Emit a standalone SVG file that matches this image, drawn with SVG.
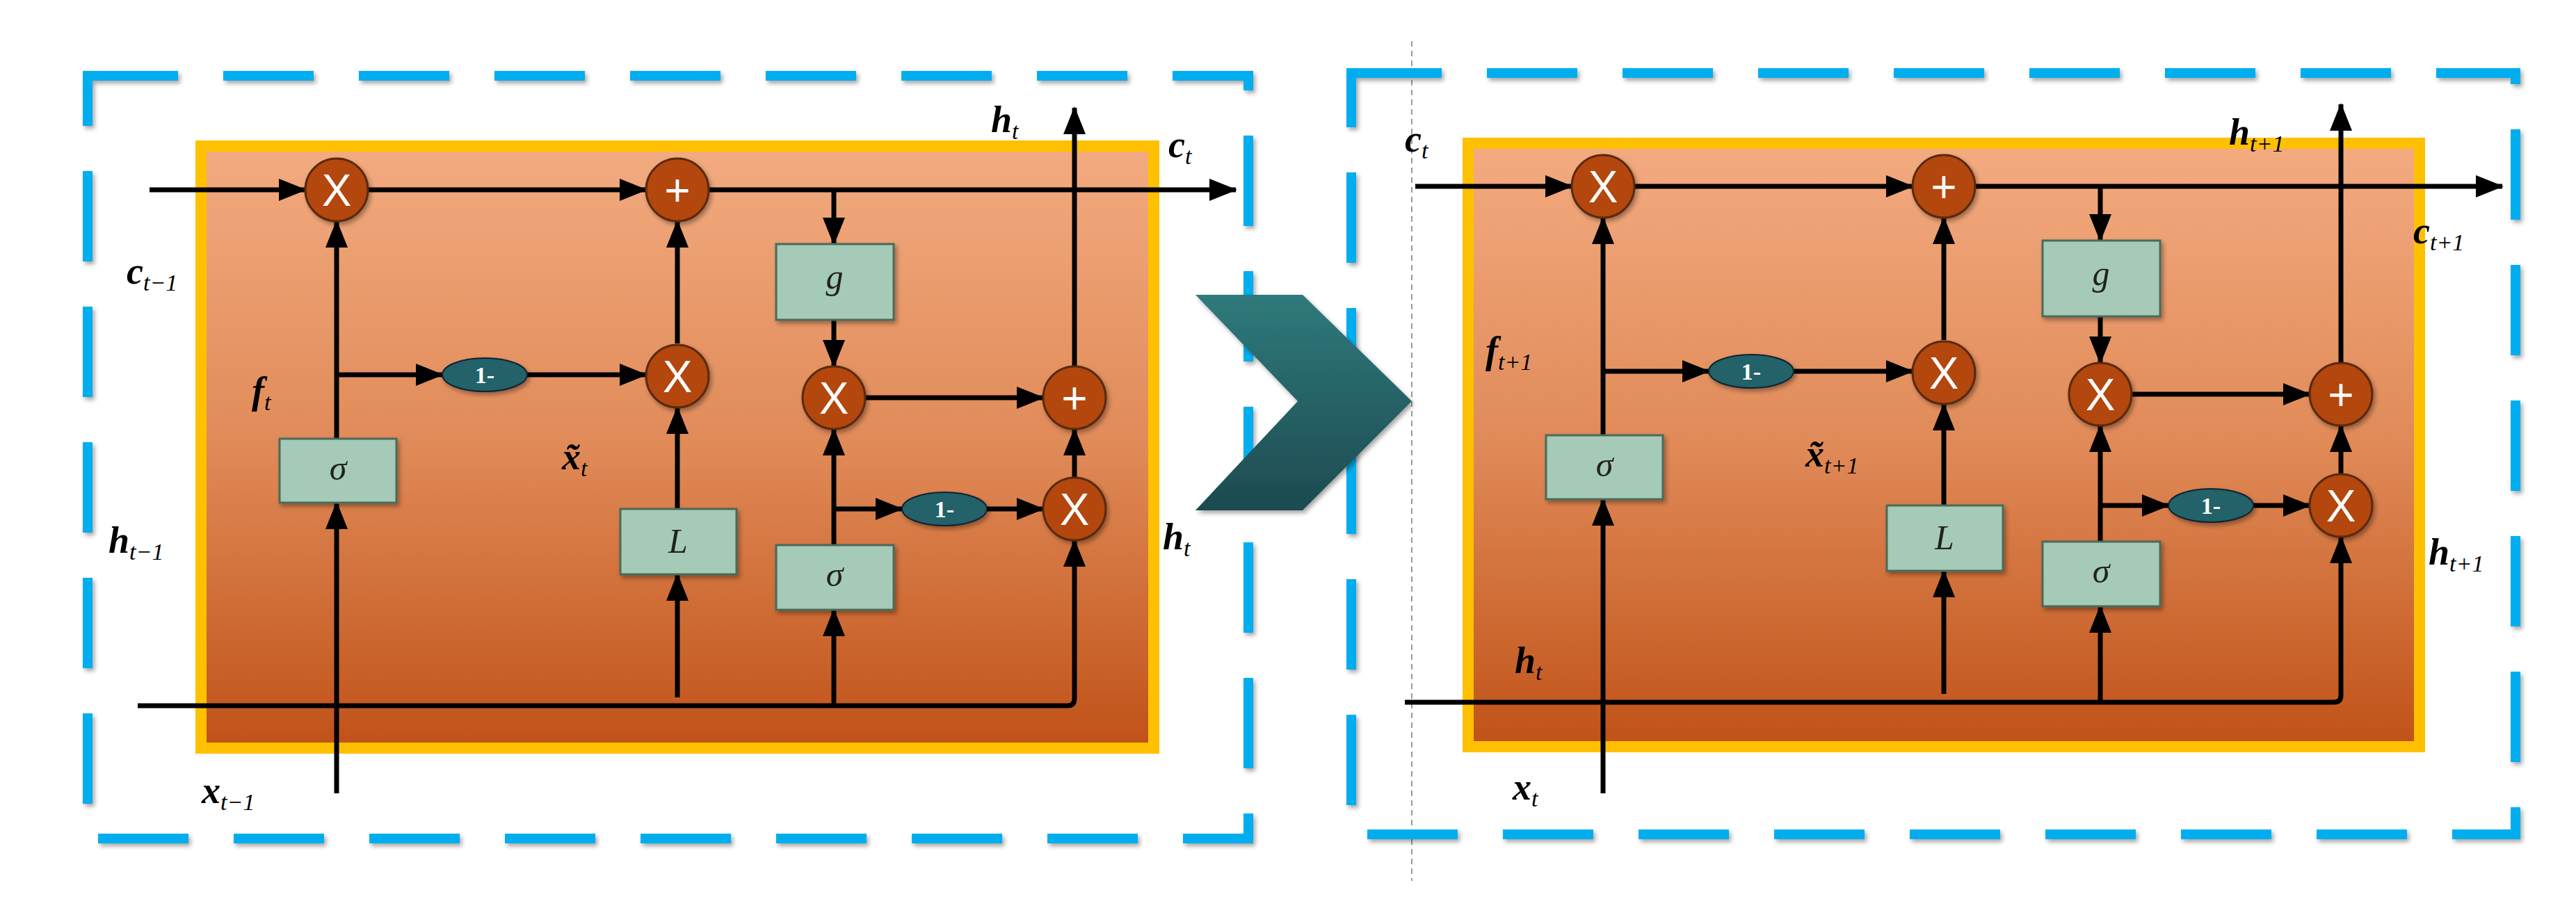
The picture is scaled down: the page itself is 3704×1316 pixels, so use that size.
<svg xmlns="http://www.w3.org/2000/svg" width="3704" height="1316" viewBox="0 0 3704 1316">
<style>
.dash{fill:none;stroke:#00aeef;stroke-width:14;stroke-dasharray:130 65;filter:url(#sh)}
.cell{fill:url(#og);stroke:#ffc000;stroke-width:16}
.ln{fill:none;stroke:#000;stroke-width:7}
.arr{marker-end:url(#ah)}
.op{fill:#b3470e;stroke:#5a2a10;stroke-width:3;filter:url(#sh)}
.opt{font-family:"Liberation Sans",Arial,sans-serif;font-size:64px;fill:#fff;text-anchor:middle}
.box{fill:#a5cbb8;stroke:#4a6a5a;stroke-width:3;filter:url(#sh)}
.bt{font-family:"Liberation Serif","Times New Roman",serif;font-style:italic;font-size:50px;fill:#222;text-anchor:middle}
.ell{fill:#236267;stroke:#123;stroke-width:2;filter:url(#sh)}
.et{font-family:"Liberation Serif",serif;font-weight:bold;font-size:34px;fill:#fff;text-anchor:middle}
.lb{font-family:"Liberation Serif","Times New Roman",serif;font-style:italic;font-weight:bold;font-size:54px;fill:#000}
.sb{font-size:34px;font-weight:normal}
</style>
<defs>
<linearGradient id="og" x1="0" y1="0" x2="0" y2="1"><stop offset="0" stop-color="#f3ab80"/><stop offset="0.5" stop-color="#e08a58"/><stop offset="1" stop-color="#c05218"/></linearGradient>
<linearGradient id="cg" x1="0" y1="0" x2="0" y2="1"><stop offset="0" stop-color="#2f7a7c"/><stop offset="1" stop-color="#1d4a50"/></linearGradient>
<filter id="sh" x="-20%" y="-20%" width="140%" height="140%"><feDropShadow dx="3" dy="4" stdDeviation="3" flood-color="#000" flood-opacity="0.35"/></filter>
<marker id="ah" markerUnits="userSpaceOnUse" markerWidth="40" markerHeight="32" refX="38" refY="16" orient="auto"><path d="M0 0L40 16L0 32Z" fill="#000"/></marker>
</defs>
<rect width="3704" height="1316" fill="#fff"/>
<line x1="2030" y1="59" x2="2030" y2="1267" stroke="#999" stroke-width="2" stroke-dasharray="8 6"/>
<g id="frames">
<rect class="dash" x="126" y="109" width="1669" height="1097"/>
<rect class="dash" x="1943" y="105" width="1674" height="1095"/>
</g>
<g id="chevron"><path d="M1719 424H1873L2030 577L1873 734H1719L1866 577Z" fill="url(#cg)" filter="url(#sh)"/></g>

<g id="cellA">
<rect class="cell" x="289" y="210" width="1370" height="866"/>
<g id="connectorsA">
<path class="ln arr" d="M215 273H439"/>
<path class="ln arr" d="M529 273H929"/>
<path class="ln arr" d="M1019 273H1777"/>
<path class="ln arr" d="M1199 273V351"/>
<path class="ln arr" d="M1199 460V527"/>
<path class="ln arr" d="M1244 572H1500"/>
<path class="ln arr" d="M1545 527V155"/>
<path class="ln arr" d="M1545 687V617"/>
<path class="ln arr" d="M198 1015H1535Q1545 1015 1545 1005V777"/>
<path class="ln arr" d="M484 1141V723"/>
<path class="ln arr" d="M484 631V318"/>
<path class="ln arr" d="M484 539H636"/>
<path class="ln arr" d="M758 539H929"/>
<path class="ln arr" d="M974 494V318"/>
<path class="ln arr" d="M974 732V586"/>
<path class="ln arr" d="M974 1003V826"/>
<path class="ln arr" d="M1199 1015V877"/>
<path class="ln arr" d="M1199 784V617"/>
<path class="ln arr" d="M1199 732H1297"/>
<path class="ln arr" d="M1419 732H1500"/>
</g>
<g id="a_x1"><circle class="op" cx="484" cy="273" r="45"/><text class="opt" x="484" y="296">X</text></g>
<g id="a_p1"><circle class="op" cx="974" cy="273" r="45"/><text class="opt" x="974" y="296">+</text></g>
<g id="a_x2"><circle class="op" cx="974" cy="541" r="45"/><text class="opt" x="974" y="564">X</text></g>
<g id="a_x3"><circle class="op" cx="1199" cy="572" r="45"/><text class="opt" x="1199" y="595">X</text></g>
<g id="a_p2"><circle class="op" cx="1545" cy="572" r="45"/><text class="opt" x="1545" y="595">+</text></g>
<g id="a_x4"><circle class="op" cx="1545" cy="732" r="45"/><text class="opt" x="1545" y="755">X</text></g>
<g id="a_s1"><rect class="box" x="402" y="631" width="168" height="92"/><text class="bt" x="486" y="690">σ</text></g>
<g id="a_L"><rect class="box" x="892" y="732" width="167" height="94"/><text class="bt" x="975" y="795">L</text></g>
<g id="a_g"><rect class="box" x="1116" y="351" width="169" height="109"/><text class="bt" x="1200" y="415">g</text></g>
<g id="a_s2"><rect class="box" x="1116" y="784" width="169" height="93"/><text class="bt" x="1200" y="843">σ</text></g>
<g id="a_e1"><ellipse class="ell" cx="697" cy="539" rx="61" ry="24"/><text class="et" x="697" y="551">1-</text></g>
<g id="a_e2"><ellipse class="ell" cx="1358" cy="732" rx="61" ry="24"/><text class="et" x="1358" y="744">1-</text></g>
</g>

<g id="cellB" transform="translate(1821,-5)">
<rect class="cell" x="290" y="211" width="1368" height="868"/>
<g id="connectorsB">
<path class="ln arr" d="M214 273H439"/>
<path class="ln arr" d="M529 273H929"/>
<path class="ln arr" d="M1019 273H1777"/>
<path class="ln arr" d="M1199 273V351"/>
<path class="ln arr" d="M1199 460V527"/>
<path class="ln arr" d="M1244 572H1500"/>
<path class="ln arr" d="M1545 527V155"/>
<path class="ln arr" d="M1545 687V617"/>
<path class="ln arr" d="M199 1015H1535Q1545 1015 1545 1005V777"/>
<path class="ln arr" d="M484 1146V723"/>
<path class="ln arr" d="M484 631V318"/>
<path class="ln arr" d="M484 539H636"/>
<path class="ln arr" d="M758 539H929"/>
<path class="ln arr" d="M974 494V318"/>
<path class="ln arr" d="M974 732V586"/>
<path class="ln arr" d="M974 1003V826"/>
<path class="ln arr" d="M1199 1015V877"/>
<path class="ln arr" d="M1199 784V617"/>
<path class="ln arr" d="M1199 732H1297"/>
<path class="ln arr" d="M1419 732H1500"/>
</g>
<g id="b_x1"><circle class="op" cx="484" cy="273" r="45"/><text class="opt" x="484" y="296">X</text></g>
<g id="b_p1"><circle class="op" cx="974" cy="273" r="45"/><text class="opt" x="974" y="296">+</text></g>
<g id="b_x2"><circle class="op" cx="974" cy="541" r="45"/><text class="opt" x="974" y="564">X</text></g>
<g id="b_x3"><circle class="op" cx="1199" cy="572" r="45"/><text class="opt" x="1199" y="595">X</text></g>
<g id="b_p2"><circle class="op" cx="1545" cy="572" r="45"/><text class="opt" x="1545" y="595">+</text></g>
<g id="b_x4"><circle class="op" cx="1545" cy="732" r="45"/><text class="opt" x="1545" y="755">X</text></g>
<g id="b_s1"><rect class="box" x="402" y="631" width="168" height="92"/><text class="bt" x="486" y="690">σ</text></g>
<g id="b_L"><rect class="box" x="892" y="732" width="167" height="94"/><text class="bt" x="975" y="795">L</text></g>
<g id="b_g"><rect class="box" x="1116" y="351" width="169" height="109"/><text class="bt" x="1200" y="415">g</text></g>
<g id="b_s2"><rect class="box" x="1116" y="784" width="169" height="93"/><text class="bt" x="1200" y="843">σ</text></g>
<g id="b_e1"><ellipse class="ell" cx="697" cy="539" rx="61" ry="24"/><text class="et" x="697" y="551">1-</text></g>
<g id="b_e2"><ellipse class="ell" cx="1358" cy="732" rx="61" ry="24"/><text class="et" x="1358" y="744">1-</text></g>
</g>

<g id="labels">
<text class="lb" x="182" y="408">c<tspan class="sb" dy="10">t−1</tspan></text>
<text class="lb" x="156" y="795">h<tspan class="sb" dy="10">t−1</tspan></text>
<text class="lb" x="290" y="1155">x<tspan class="sb" dy="10">t−1</tspan></text>
<text class="lb" x="362" y="580" font-weight="normal">f<tspan class="sb" dy="10">t</tspan></text>
<text class="lb" x="808" y="675" font-weight="normal">x̃<tspan class="sb" dy="10">t</tspan></text>
<text class="lb" x="1425" y="190">h<tspan class="sb" dy="10">t</tspan></text>
<text class="lb" x="1680" y="226">c<tspan class="sb" dy="10">t</tspan></text>
<text class="lb" x="1672" y="790">h<tspan class="sb" dy="10">t</tspan></text>
<text class="lb" x="2020" y="218">c<tspan class="sb" dy="10">t</tspan></text>
<text class="lb" x="2136" y="522" font-weight="normal">f<tspan class="sb" dy="10">t+1</tspan></text>
<text class="lb" x="2596" y="671" font-weight="normal">x̃<tspan class="sb" dy="10">t+1</tspan></text>
<text class="lb" x="3205" y="208">h<tspan class="sb" dy="10">t+1</tspan></text>
<text class="lb" x="3470" y="350">c<tspan class="sb" dy="10">t+1</tspan></text>
<text class="lb" x="3492" y="812">h<tspan class="sb" dy="10">t+1</tspan></text>
<text class="lb" x="2178" y="968">h<tspan class="sb" dy="10">t</tspan></text>
<text class="lb" x="2175" y="1150">x<tspan class="sb" dy="10">t</tspan></text>
</g>
</svg>
